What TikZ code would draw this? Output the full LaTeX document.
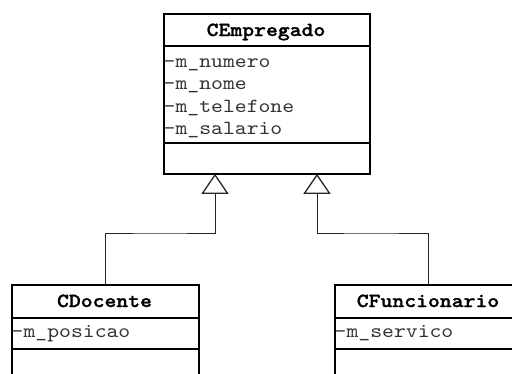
\documentclass[tikz,border=0pt]{standalone}
\usepackage{fontspec}
\setmonofont{lmmono10-regular.otf}[BoldFont=lmmonolt10-bold.otf, BoldFeatures={FakeBold=1.2}, FakeStretch=1.13]
\usetikzlibrary{arrows.meta}
\tikzset{
  classbox/.style={draw=black, line width=1.6pt, rectangle, inner sep=0pt, anchor=north west},
  sep/.style={draw=black, line width=1.6pt},
  title/.style={font=\fontsize{20}{22}\ttfamily\bfseries, inner sep=0pt, anchor=base},
  attr/.style={font=\fontsize{20}{22}\ttfamily, text=black!80, inner sep=0pt, anchor=base west},
  inherit/.style={draw=black!85, line width=0.9pt,
    -{Triangle[open, length=20pt, width=27pt, line width=1.3pt]}}
}
\begin{document}
\begin{tikzpicture}[x=1pt, y=-1pt]
\clip (0,0) rectangle (512,373);
\fill[white] (0,0) rectangle (512,373);
% CEmpregado
\node[classbox, minimum width=206pt, minimum height=160pt] (emp) at (163,13) {};
\draw[sep] (163,46) -- (369,46);
\draw[sep] (163,143) -- (369,143);
\node[title] (empt) at (266,36) {CEmpregado};
\node[attr] (a1) at (163.5,67) {-m\_numero};
\node[attr] (a2) at (163.5,89.5) {-m\_nome};
\node[attr] (a3) at (163.5,112) {-m\_telefone};
\node[attr] (a4) at (163.5,134.5) {-m\_salario};
% CDocente
\node[classbox, minimum width=187pt, minimum height=130pt] (doc) at (11,284) {};
\draw[sep] (11,318) -- (198,318);
\draw[sep] (11,349) -- (198,349);
\node[title] (doct) at (104.5,307) {CDocente};
\node[attr] (d1) at (11.5,337) {-m\_posicao};
% CFuncionario
\node[classbox, minimum width=188pt, minimum height=130pt] (fun) at (334,284) {};
\draw[sep] (334,318) -- (522,318);
\draw[sep] (334,349) -- (522,349);
\node[title] (funt) at (428,307) {CFuncionario};
\node[attr] (f1) at (334.5,337) {-m\_servico};
% connectors
\coordinate (tl) at (215,173.8);
\coordinate (tr) at (317,173.8);
\draw[inherit] (doc.north -| 105,0) |- (160,233) -| (tl);
\draw[inherit] (fun.north) |- (370,233) -| (tr);
\end{tikzpicture}
\end{document}
